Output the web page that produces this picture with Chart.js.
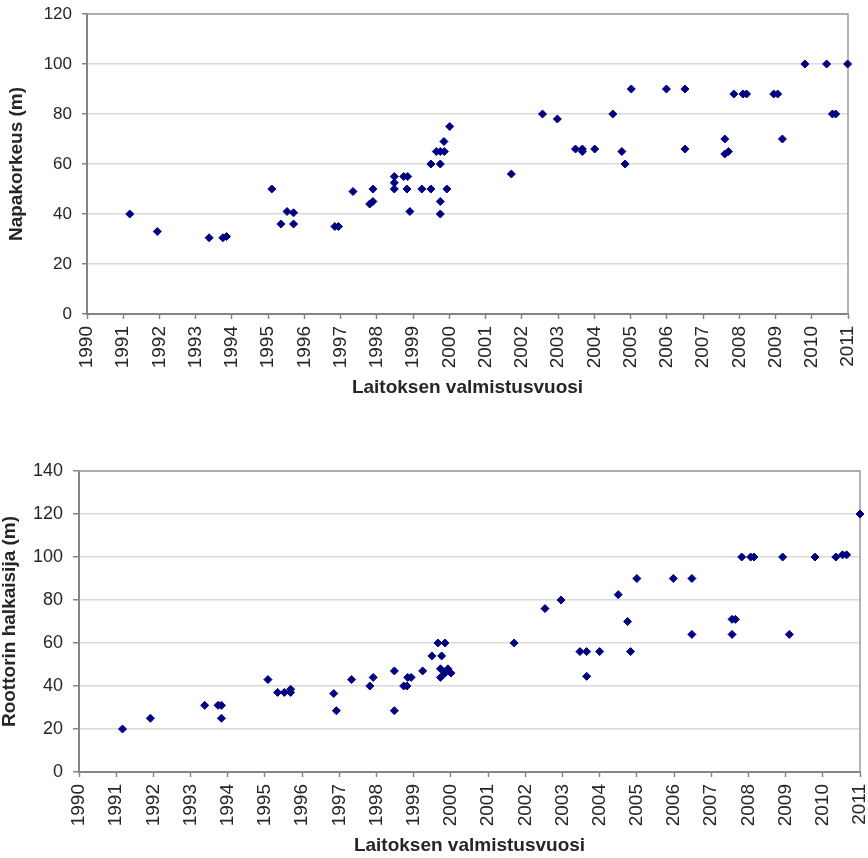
<!DOCTYPE html>
<html>
<head>
<meta charset="utf-8">
<script src="https://cdn.jsdelivr.net/npm/chart.js@4/dist/chart.umd.min.js"></script>
<style>
  html, body { margin: 0; padding: 0; background: #fff; }
  #wrap { position: relative; width: 868px; height: 858px; overflow: hidden; }
  canvas { position: absolute; left: 0; }
  #heightChart { top: 0; }
  #rotorChart { top: 430px; }
</style>
</head>
<body>
<div id="wrap">
  <canvas id="heightChart" width="868" height="420"></canvas>
  <canvas id="rotorChart" width="868" height="428"></canvas>
</div>
<script>
// Year ticks shared by both charts
const yearTicks = [1990, 1991, 1992, 1993, 1994, 1995, 1996, 1997, 1998, 1999, 2000,
    2001, 2002, 2003, 2004, 2005, 2006, 2007, 2008, 2009, 2010, 2011];

// Hub height (m) by completion year
const heightYears = [
    1991.18, 1991.94, 1993.37, 1993.75, 1993.85, 1995.10, 1995.35, 1995.52, 1995.70, 1995.70,
    1996.84, 1996.94, 1997.34, 1997.80, 1997.89, 1997.89, 1998.48, 1998.48, 1998.48, 1998.74,
    1998.85, 1998.83, 1998.91, 1999.24, 1999.49, 1999.49, 1999.75, 1999.64, 1999.75, 1999.86,
    1999.85, 2000.01, 1999.75, 1999.75, 1999.93, 2001.71, 2002.57, 2002.98, 2003.48, 2003.67,
    2003.67, 2004.01, 2004.51, 2004.76, 2004.85, 2005.02, 2005.99, 2006.50, 2006.50, 2007.60,
    2007.60, 2007.70, 2007.85, 2008.10, 2008.20, 2008.95, 2009.06, 2009.19, 2009.81, 2010.41,
    2010.99, 2010.57, 2010.66
];
const heightValues = [
    40, 33, 30.5, 30.5, 31, 50, 36, 41, 40.5, 36,
    35, 35, 49, 44, 45, 50, 55, 52.5, 50, 55,
    55, 50, 41, 50, 60, 50, 60, 65, 65, 65,
    69, 75, 45, 40, 50, 56, 80, 78, 66, 66,
    65, 66, 80, 65, 60, 90, 90, 90, 66, 70,
    64, 65, 88, 88, 88, 88, 88, 70, 100, 100,
    100, 80, 80
];

// Rotor diameter (m) by completion year
const rotorYears = [
    1991.17, 1991.92, 1993.38, 1993.74, 1993.83, 1993.83, 1995.08, 1995.34, 1995.52, 1995.69,
    1995.69, 1996.85, 1996.92, 1997.33, 1997.82, 1997.91, 1998.48, 1998.48, 1998.73, 1998.82,
    1998.84, 1998.93, 1999.24, 1999.49, 1999.75, 1999.65, 1999.84, 1999.72, 1999.72, 1999.84,
    1999.92, 2000.00, 2001.70, 2002.53, 2002.96, 2003.47, 2003.65, 2003.65, 2004.00, 2004.50,
    2004.75, 2004.83, 2005.00, 2005.98, 2006.48, 2006.48, 2007.56, 2007.56, 2007.65, 2007.82,
    2008.06, 2008.15, 2008.92, 2009.10, 2009.79, 2010.35, 2010.53, 2010.64, 2011.00
];
const rotorValues = [
    20, 25, 31, 31, 31, 25, 43, 37, 37, 37,
    38.5, 36.5, 28.5, 43, 40, 44, 47, 28.5, 40, 40,
    44, 44, 47, 54, 54, 60, 60, 48, 44, 46,
    48, 46, 60, 76, 80, 56, 56, 44.5, 56, 82.5,
    70, 56, 90, 90, 90, 64, 64, 71, 71, 100,
    100, 100, 100, 64, 100, 100, 101, 101, 120
];

const axisGray = '#858585';
const gridGray = '#dadada';
const textColor = '#262626';
const fontFamily = 'Liberation Sans, Arial, sans-serif';

// outline along the top and right of the plot area
const plotFrame = {
    id: 'plotFrame',
    beforeDatasetsDraw(chart) {
        const { ctx, chartArea: a } = chart;
        ctx.save();
        ctx.strokeStyle = '#9c9c9c';
        ctx.lineWidth = 1.5;
        ctx.beginPath();
        ctx.moveTo(a.left, a.top);
        ctx.lineTo(a.right, a.top);
        ctx.lineTo(a.right, a.bottom);
        ctx.stroke();
        ctx.restore();
    },
};

function makeChart(id, years, values, cfg) {
    const points = years.map((x, i) => ({ x: x, y: values[i] }));
    return new Chart(document.getElementById(id), {
        type: 'scatter',
        data: {
            datasets: [{
                data: points,
                pointStyle: 'rectRot',
                pointRadius: 4,
                pointBorderWidth: 1,
                backgroundColor: '#000080',
                borderColor: '#000080',
                clip: false,
            }],
        },
        options: {
            responsive: false,
            animation: false,
            events: [],
            layout: { padding: { top: cfg.padTop, right: cfg.padRight, left: 0, bottom: 0 } },
            plugins: { legend: { display: false }, tooltip: { enabled: false } },
            scales: {
                x: {
                    type: 'linear',
                    min: 1990,
                    max: 2011,
                    afterBuildTicks: (s) => { s.ticks = yearTicks.map((v) => ({ value: v })); },
                    afterFit: (s) => {
                        s.height = cfg.xHeight;
                        s.paddingLeft = 0;
                        s.paddingRight = 0;
                    },
                    border: { color: axisGray, width: 2 },
                    grid: { drawOnChartArea: false, tickLength: 5, tickColor: axisGray, tickWidth: 1.5 },
                    ticks: {
                        minRotation: 90,
                        maxRotation: 90,
                        autoSkip: false,
                        padding: 7,
                        color: textColor,
                        font: { family: fontFamily, size: 19 },
                        callback: (v) => String(v),
                    },
                    title: {
                        display: true,
                        text: 'Laitoksen valmistusvuosi',
                        color: textColor,
                        font: { family: fontFamily, size: 19, weight: 'bold', lineHeight: 1 },
                        padding: { top: 0, bottom: cfg.xTitlePad },
                    },
                },
                y: {
                    min: 0,
                    max: cfg.yMax,
                    afterFit: (s) => {
                        s.width = cfg.yWidth;
                        s.paddingTop = 0;
                        s.paddingBottom = 0;
                    },
                    border: { color: axisGray, width: 2 },
                    grid: { color: gridGray, lineWidth: 1.5, tickLength: cfg.yTickLen, tickColor: axisGray, tickWidth: 1.5 },
                    ticks: {
                        stepSize: 20,
                        padding: 10,
                        color: textColor,
                        font: { family: fontFamily, size: cfg.tickSize },
                    },
                    title: {
                        display: true,
                        text: cfg.yTitle,
                        color: textColor,
                        font: { family: fontFamily, size: 19, weight: 'bold', lineHeight: 1 },
                        padding: { top: cfg.yTitlePad, bottom: 0 },
                    },
                },
            },
        },
        plugins: [plotFrame],
    });
}

makeChart('heightChart', heightYears, heightValues, {
    yMax: 120, yTitle: 'Napakorkeus (m)', yWidth: 87, xHeight: 106,
    padTop: 14, padRight: 20, tickSize: 17, yTickLen: 5, xTitlePad: 23, yTitlePad: 7,
});

makeChart('rotorChart', rotorYears, rotorValues, {
    yMax: 140, yTitle: 'Roottorin halkaisija (m)', yWidth: 79, xHeight: 86,
    padTop: 41, padRight: 8, tickSize: 18, yTickLen: 6, xTitlePad: 3, yTitlePad: 0,
});
</script>
</body>
</html>
